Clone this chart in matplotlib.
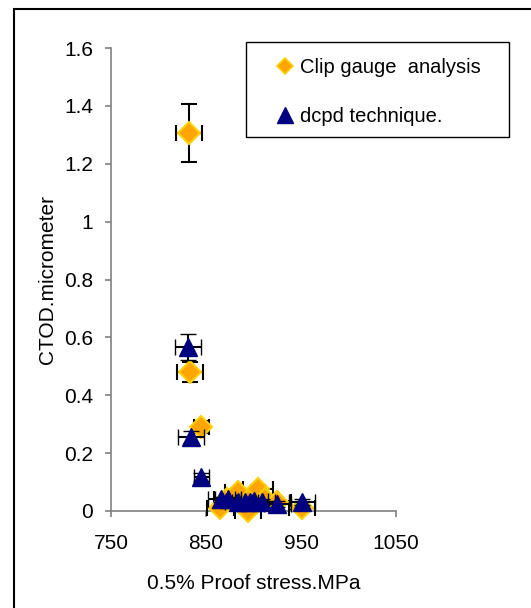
import matplotlib
matplotlib.use('Agg')
import matplotlib.pyplot as plt
from matplotlib.lines import Line2D
from matplotlib.patches import Rectangle

plt.rcParams['font.family'] = ['Liberation Sans', 'DejaVu Sans']

# clip gauge analysis
clip_x = [832, 833, 845, 865, 872, 884, 894, 898, 905, 912, 925, 951]
clip_y = [1.305, 0.48, 0.29, 0.01, 0.04, 0.065, 0.0, 0.05, 0.075, 0.04, 0.03, 0.01]
clip_xerr = [14, 14, 8, 14, 14, 14, 14, 14, 16, 14, 14, 14]
clip_yerr = [0.10, 0.035, 0.02, 0.01, 0.01, 0.01, 0.01, 0.01, 0.015, 0.01, 0.01, 0.01]

# dcpd technique
dcpd_x = [831, 834, 845, 866, 873, 884, 891, 896, 901, 909, 925, 951]
dcpd_y = [0.567, 0.256, 0.117, 0.04, 0.04, 0.03, 0.03, 0.03, 0.035, 0.03, 0.025, 0.03]
dcpd_xerr = [14, 14, 8, 14, 14, 14, 14, 14, 14, 14, 14, 14]
dcpd_yerr = [0.045, 0.02, 0.015, 0.01, 0.01, 0.01, 0.01, 0.01, 0.01, 0.01, 0.01, 0.01]

x_ticks = [750, 850, 950, 1050]
y_ticks = [0, 0.2, 0.4, 0.6, 0.8, 1, 1.2, 1.4, 1.6]
y_labels = ['0', '0.2', '0.4', '0.6', '0.8', '1', '1.2', '1.4', '1.6']

W, H = 531, 608
fig = plt.figure(figsize=(W / 100, H / 100), dpi=100)
ax = fig.add_axes([111 / W, 1 - 511 / H, (396 - 111) / W, (511 - 48) / H])

gray = '#808080'
fs = 15

ax.errorbar(clip_x, clip_y, xerr=clip_xerr, yerr=clip_yerr, fmt='D',
            ms=11, mfc='#FFA500', mec='#FFD000', mew=1.5,
            ecolor='black', elinewidth=1.5, capsize=6, capthick=1.5,
            clip_on=False, zorder=3)
ax.errorbar(dcpd_x, dcpd_y, xerr=dcpd_xerr, yerr=dcpd_yerr, fmt='^',
            ms=12.5, mfc='#000080', mec='#000080', mew=1,
            ecolor='black', elinewidth=1.5, capsize=6, capthick=1.5,
            clip_on=False, zorder=4)

ax.set_xlim(750, 1050)
ax.set_ylim(0, 1.6)
ax.set_xticks(x_ticks)
ax.set_yticks(y_ticks)
ax.set_yticklabels(y_labels)
ax.spines['top'].set_visible(False)
ax.spines['right'].set_visible(False)
for s in ['left', 'bottom']:
    ax.spines[s].set_color(gray)
    ax.spines[s].set_linewidth(1.2)
ax.tick_params(axis='both', direction='out', length=4.5, width=1.2,
               color=gray, labelsize=fs)
ax.tick_params(axis='y', pad=8.5)
ax.tick_params(axis='x', pad=12)

ax.set_xlabel('0.5% Proof stress.MPa', fontsize=fs, labelpad=15)
ax.set_ylabel('CTOD.micrometer', fontsize=fs, labelpad=5)

# legend box
fig.patches.append(Rectangle((246 / W, 1 - 137 / H), (509 - 246) / W, (137 - 42) / H,
                             transform=fig.transFigure, fill=False,
                             edgecolor='black', lw=1.0))
handles = [Line2D([], [], ls='none', marker='D', ms=8.5, mfc='#FFA500', mec='#FFD000', mew=1.2),
           Line2D([], [], ls='none', marker='^', ms=12, mfc='#000080', mec='#000080')]
fig.legend(handles, ['Clip gauge  analysis', 'dcpd technique.'],
           loc='upper left', bbox_to_anchor=(275 / W, 1 - 58 / H),
           frameon=False, fontsize=14.5, borderpad=0, borderaxespad=0,
           handlelength=1.0, handletextpad=0.25, labelspacing=1.5)

# outer border
fig.patches.append(Rectangle((14 / W, -0.1), 1.2, 1.1 - 9 / H,
                             transform=fig.transFigure, fill=False,
                             edgecolor='black', lw=1.5))

fig.savefig('out.png', dpi=100)
